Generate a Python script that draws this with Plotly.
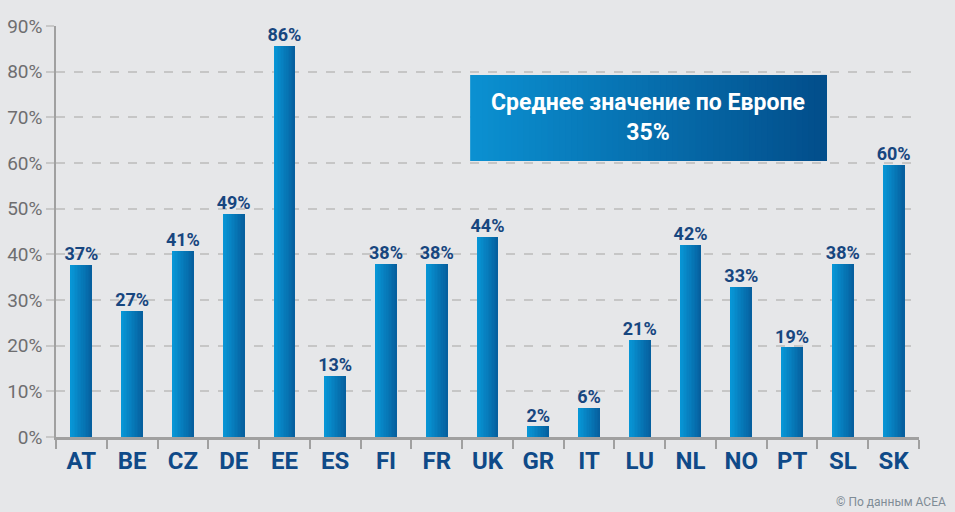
import plotly.graph_objects as go

categories = ["AT", "BE", "CZ", "DE", "EE", "ES", "FI", "FR", "UK", "GR", "IT", "LU", "NL", "NO", "PT", "SL", "SK"]
values = [37.7, 27.6, 40.8, 48.9, 85.7, 13.4, 37.9, 37.9, 43.9, 2.4, 6.4, 21.3, 42.1, 32.9, 19.7, 37.9, 59.6]
labels = ["37%", "27%", "41%", "49%", "86%", "13%", "38%", "38%", "44%", "2%", "6%", "21%", "42%", "33%", "19%", "38%", "60%"]
y_ticks = [0, 10, 20, 30, 40, 50, 60, 70, 80, 90]
y_tick_labels = [f"{v}%" for v in y_ticks]
avg_text = "Среднее значение по Европе<br>35%"
source_text = "© По данным ACEA"

BG = "#e6e7e9"


def lerp(c1, c2, t):
    a = [int(c1[i:i + 2], 16) for i in (1, 3, 5)]
    b = [int(c2[i:i + 2], 16) for i in (1, 3, 5)]
    return "#" + "".join(f"{round(a[k] + (b[k] - a[k]) * t):02x}" for k in range(3))


fig = go.Figure()

# gradient bars: overlaid stripes, each extending to the right edge
BAR_W = 0.43
N = 14
for i in range(N):
    t = i / (N - 1)
    off = -BAR_W / 2 + i * BAR_W / N
    fig.add_trace(go.Bar(
        x=categories, y=values,
        offset=off, width=BAR_W / 2 - off,
        marker=dict(color=lerp("#0796d6", "#06609f", t), line=dict(width=0)),
        hoverinfo="skip", showlegend=False,
    ))

fig.add_trace(go.Scatter(
    x=categories, y=values, mode="text", text=labels,
    textposition="top center",
    textfont=dict(family="Roboto", size=18, color="#17467f", weight="bold"),
    showlegend=False, hoverinfo="skip", cliponaxis=False,
))

# gradient box for the average
x0, x1, y0, y1 = 0.4799, 0.8927, 0.6715, 0.881
M = 60
shapes = []
for i in range(M):
    t = i / (M - 1)
    xa = x0 + (x1 - x0) * i / M
    shapes.append(dict(type="rect", xref="paper", yref="paper",
                       x0=xa, x1=x1, y0=y0, y1=y1,
                       fillcolor=lerp("#0b90d1", "#024e8b", t),
                       line=dict(width=0), layer="above"))

fig.update_layout(
    width=955, height=512,
    margin=dict(l=56, r=36, t=26, b=75, autoexpand=False),
    paper_bgcolor=BG, plot_bgcolor=BG,
    barmode="overlay", bargap=0,
    shapes=shapes,
    annotations=[
        dict(xref="paper", yref="paper", x=(x0 + x1) / 2, y=(y0 + y1) / 2,
             xanchor="center", yanchor="middle",
             text=avg_text, showarrow=False, align="center",
             font=dict(family="Roboto", size=23, color="white", weight="bold")),
        dict(xref="paper", yref="paper", x=1.0335, y=-0.158, xanchor="right", yanchor="middle",
             text=source_text, showarrow=False,
             font=dict(family="Roboto", size=12, color="#7f8c96")),
    ],
    xaxis=dict(
        type="category", range=[-0.5, len(categories) - 0.5], automargin=False,
        tickson="boundaries", ticks="outside", ticklen=9, tickwidth=1.5, tickcolor="#a0a0a0",
        showline=True, linecolor="#a0a0a0", linewidth=3,
        showgrid=False,
        tickfont=dict(family="Roboto", size=24, color="#0f4a88", weight="bold"),
    ),
    yaxis=dict(
        range=[0, 90], tickvals=y_ticks, ticktext=y_tick_labels, automargin=False,
        ticks="outside", ticklen=8, tickcolor="#c8c8c8", tickwidth=1.5,
        showline=True, linecolor="#a0a0a0", linewidth=1.5,
        showgrid=True, gridcolor="#c6c6c6", gridwidth=1.5, griddash="dash",
        zeroline=False,
        tickfont=dict(family="Roboto", size=19, color="#6e6e70"),
    ),
)

fig.write_html("out.html", config={"displayModeBar": False},
               post_script="document.body.style.margin='0';document.body.style.background='" + BG + "';")
